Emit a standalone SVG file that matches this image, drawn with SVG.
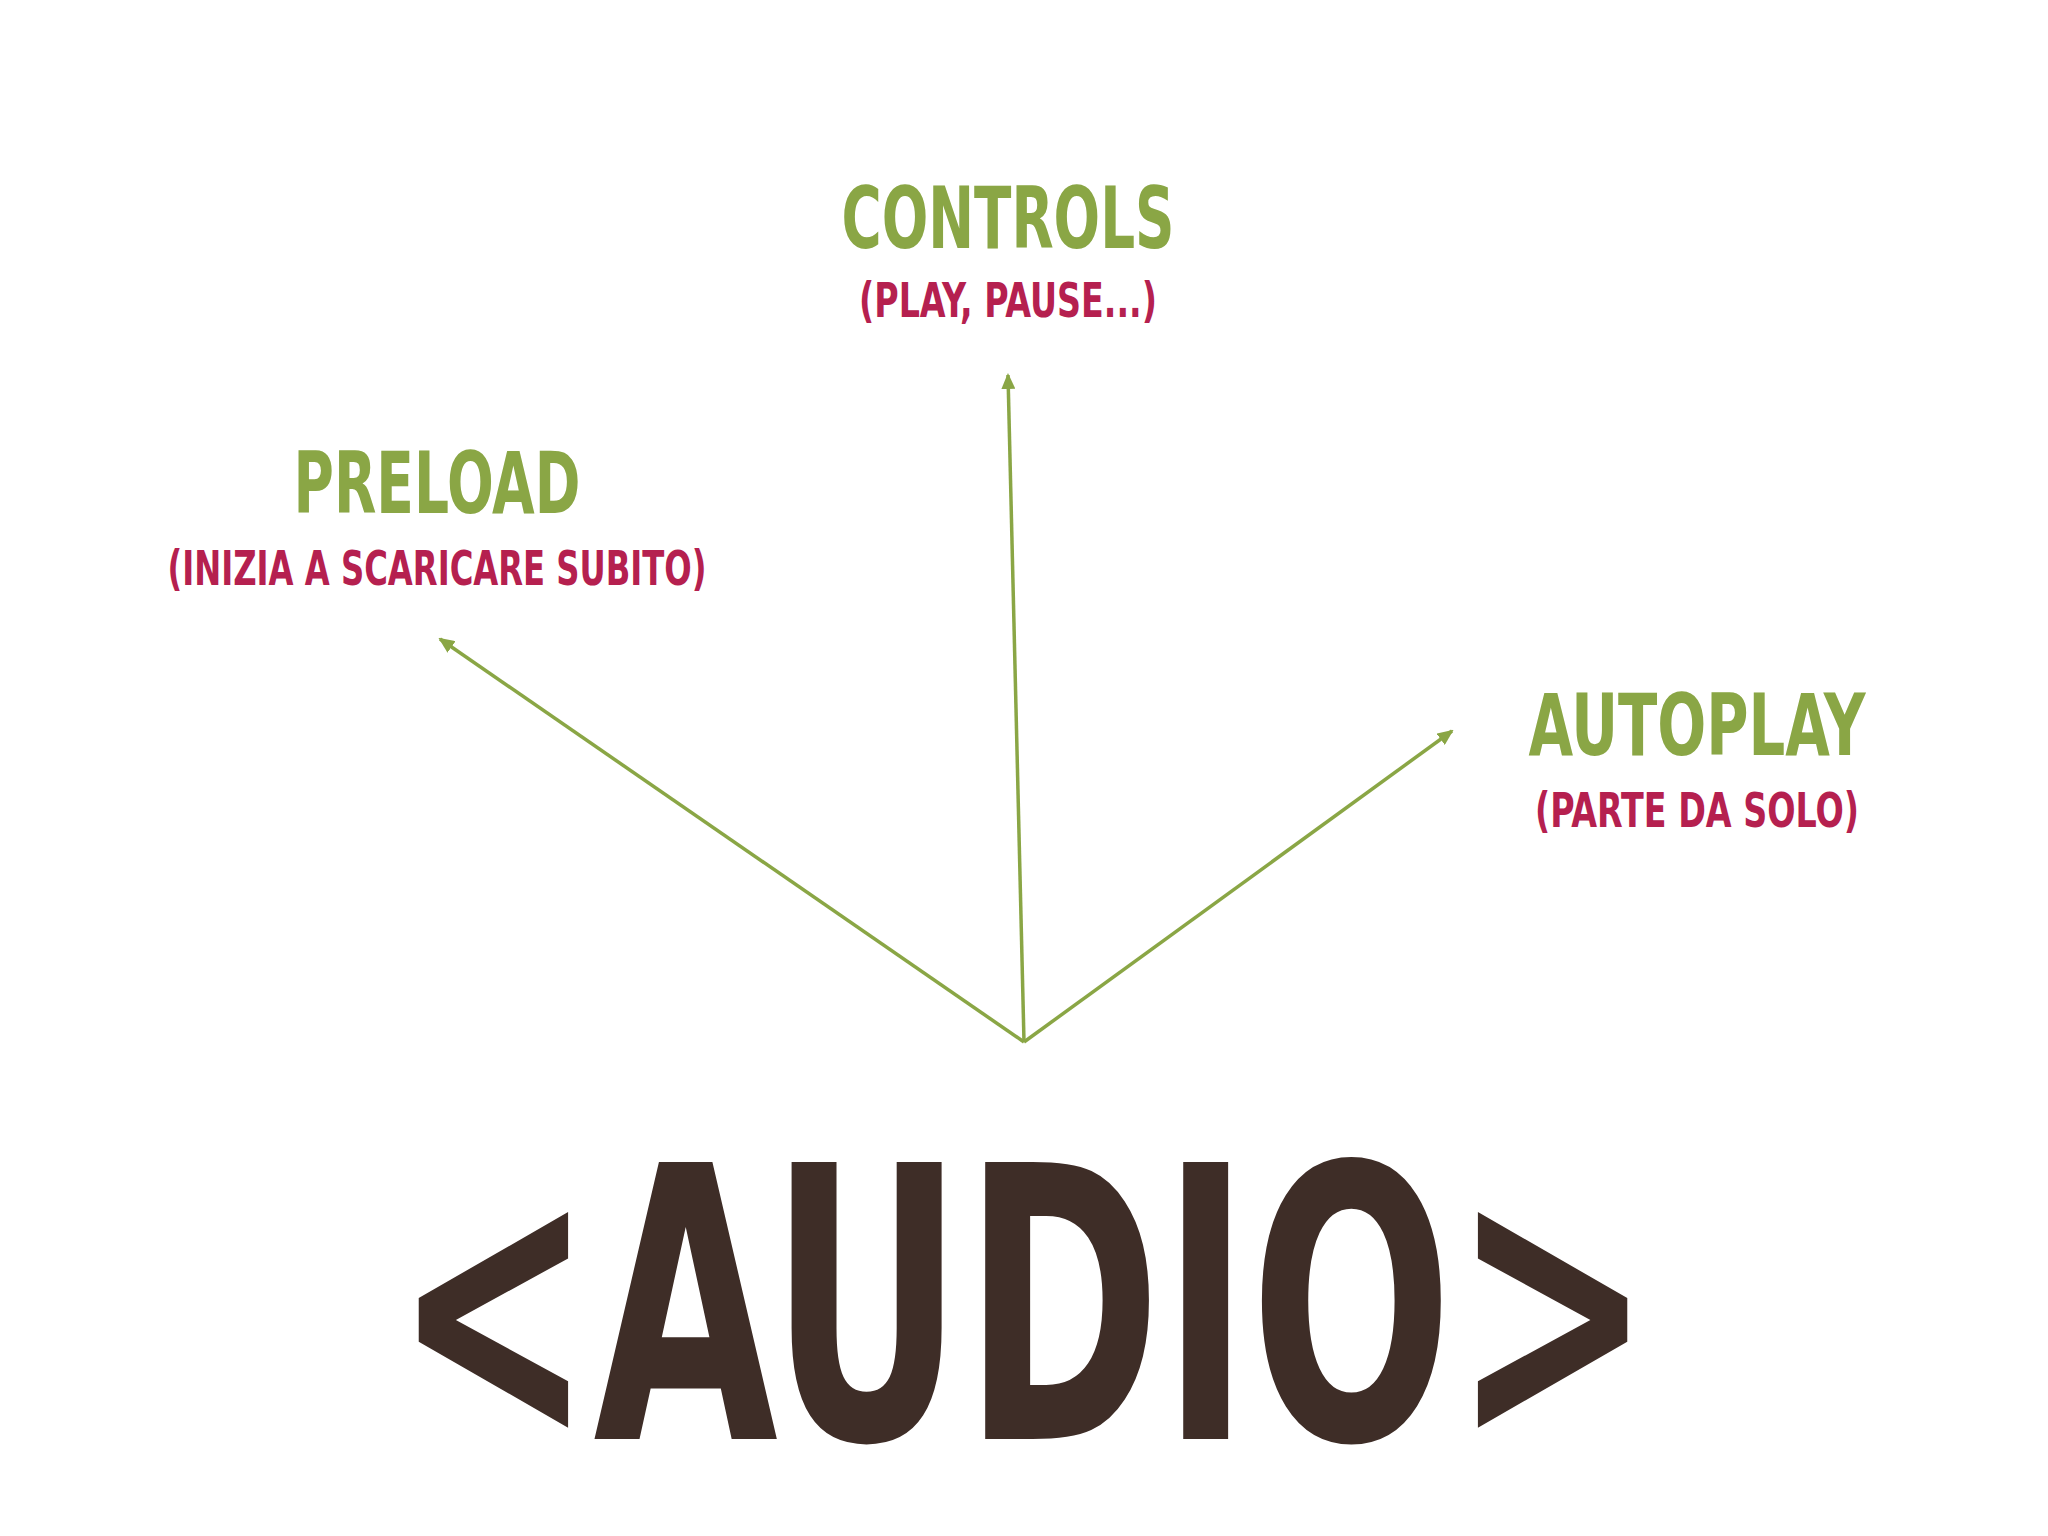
<svg xmlns="http://www.w3.org/2000/svg" width="2048" height="1536" viewBox="0 0 2048 1536">
<style>
.t{font-family:"DejaVu Sans Condensed","DejaVu Sans",sans-serif;font-weight:bold;text-anchor:middle}
.g{fill:#8aa645;font-size:86px}
.r{fill:#b5204f;font-size:48px}
.c{stroke:#8aa645;stroke-width:3.5;fill:none;marker-end:url(#a)}
</style>
<defs><marker id="a" markerWidth="16" markerHeight="14" refX="14" refY="7" orient="auto" markerUnits="userSpaceOnUse" viewBox="0 0 16 14"><path d="M0,0L16,7L0,14z" fill="#8aa645"/></marker></defs>
<rect width="2048" height="1536" fill="#fff"/>
<g id="controls"><text class="t g" x="1008" y="248" textLength="333" lengthAdjust="spacingAndGlyphs">CONTROLS</text><text class="t r" x="1008" y="317" textLength="298" lengthAdjust="spacingAndGlyphs">(PLAY, PAUSE...)</text></g>
<g id="preload"><text class="t g" x="437" y="513" textLength="287" lengthAdjust="spacingAndGlyphs">PRELOAD</text><text class="t r" x="437" y="585" textLength="539" lengthAdjust="spacingAndGlyphs">(INIZIA A SCARICARE SUBITO)</text></g>
<g id="autoplay"><text class="t g" x="1697" y="755" textLength="337" lengthAdjust="spacingAndGlyphs">AUTOPLAY</text><text class="t r" x="1697" y="827" textLength="324" lengthAdjust="spacingAndGlyphs">(PARTE DA SOLO)</text></g>
<g id="audio"><text class="t" x="1023" y="1439" fill="#3e2d27" font-size="380" textLength="1259" lengthAdjust="spacingAndGlyphs">&lt;AUDIO&gt;</text></g>
<g id="connectors">
<path class="c" d="M1024,1042L1008,375"/>
<path class="c" d="M1024,1042L440,639"/>
<path class="c" d="M1024,1042L1452,731"/>
</g>
</svg>
